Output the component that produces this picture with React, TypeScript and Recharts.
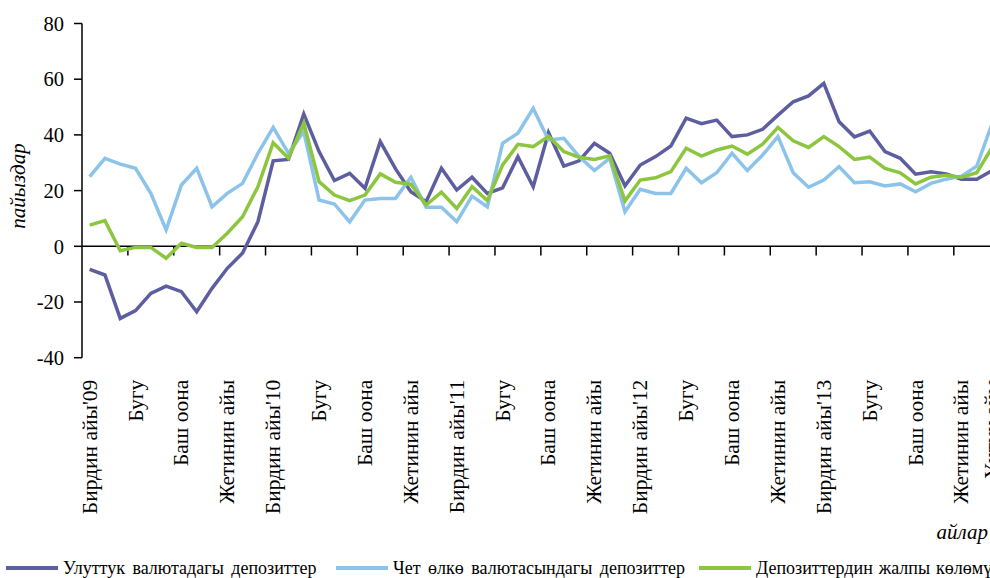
import { LineChart, Line, XAxis, YAxis, ReferenceLine } from "recharts";

// months Feb 2009 .. Jan 2014, labelled every third month
const tickIndex = [0, 3, 6, 9, 12, 15, 18, 21, 24, 27, 30, 33, 36, 39, 42, 45, 48, 51, 54, 57, 59];
const tickLabels = [
  "Бирдин айы'09", "Бугу", "Баш оона", "Жетинин айы",
  "Бирдин айы'10", "Бугу", "Баш оона", "Жетинин айы",
  "Бирдин айы'11", "Бугу", "Баш оона", "Жетинин айы",
  "Бирдин айы'12", "Бугу", "Баш оона", "Жетинин айы",
  "Бирдин айы'13", "Бугу", "Баш оона", "Жетинин айы",
  "Үчтүн айы",
];

const national = [
  -8.3, -10.3, -25.9, -23.1, -16.9, -14.3, -16.3, -23.5, -15.1, -7.9,
  -2.4, 8.8, 30.7, 31.2, 47.5, 34, 23.6, 26.2, 20.8, 37.6,
  27.8, 19.6, 16.0, 28, 20.2, 24.8, 19, 21, 32.2, 21.4,
  40.8, 28.8, 30.7, 37, 33.4, 21.7, 29.2, 32.2, 36, 46,
  44, 45.3, 39.4, 40, 42, 47.1, 51.9, 54, 58.5, 44.7,
  39.3, 41.4, 34, 31.6, 25.9, 26.8, 26, 24.1, 24.1, 27.2,
];

const foreign = [
  25, 31.6, 29.5, 28, 19, 5.9, 22, 28, 14.2, 19,
  22.6, 33.4, 42.7, 33.4, 41.2, 16.6, 15.2, 8.8, 16.6, 17.2,
  17.2, 24.8, 14, 14, 8.8, 18, 14.2, 37, 40.6, 49.5,
  38.2, 38.8, 32.2, 27.2, 31.6, 12.4, 20.5, 19, 19, 28,
  22.8, 26.4, 33.4, 27.2, 32.8, 39.4, 26.4, 21.2, 23.8, 28.6,
  22.8, 23.2, 21.7, 22.4, 19.6, 22.6, 24.1, 25.2, 28.8, 44,
];

const total = [
  7.6, 9.2, -1.6, -0.4, -0.4, -4.3, 1.1, -0.4, -0.4, 4.7,
  10.6, 21.4, 37.2, 31.6, 44.2, 23.2, 18.4, 16.4, 18.4, 26,
  23, 22.3, 14.8, 19.4, 13.6, 21.4, 16.4, 29.2, 36.6, 35.8,
  39.5, 34, 32, 31.2, 32.5, 16.3, 23.8, 24.6, 26.8, 35.2,
  32.4, 34.6, 36, 33.1, 36.7, 42.7, 37.9, 35.5, 39.4, 35.8,
  31.2, 32, 28, 26.4, 22.4, 24.8, 25.5, 24.8, 26.4, 35.5,
];

const SERIES = [
  { key: "national", name: "Улуттук валютадагы депозиттер", color: "#5D5E9F", legendX: 6 },
  { key: "foreign", name: "Чет өлкө валютасындагы депозиттер", color: "#8CC3EA", legendX: 336 },
  { key: "total", name: "Депозиттердин жалпы көлөмү", color: "#8CC63F", legendX: 699 },
];

const FONT = '"Liberation Serif", "DejaVu Serif", serif';

const chartData = national.map((v, i) => ({
  i,
  national: v,
  foreign: foreign[i],
  total: total[i],
}));

// small tick marks on the zero line, between every third month
const tickMarks = Array.from({ length: 20 }, (_, k) => k * 3 + 2.5);

function MonthTick({ x, y, payload }: any) {
  const label = tickLabels[tickIndex.indexOf(payload.value)];
  const ty = y + 22;
  return (
    <text
      x={x}
      y={ty}
      transform={`rotate(-90, ${x}, ${ty})`}
      textAnchor="end"
      dominantBaseline="central"
      fontFamily={FONT}
      fontSize={21.5}
      fill="#000"
    >
      {label}
    </text>
  );
}

export default function App() {
  return (
    <div
      style={{
        position: "absolute",
        left: 0,
        top: 0,
        width: 990,
        height: 578,
        overflow: "hidden",
        background: "#fff",
        fontFamily: FONT,
        color: "#000",
      }}
    >
      <LineChart
        width={1015}
        height={578}
        data={chartData}
        margin={{ top: 23.5, right: 0, bottom: 50.3, left: 0 }}
        style={{ fontFamily: FONT }}
      >
        <XAxis
          dataKey="i"
          type="number"
          domain={[-0.5, 60.5]}
          ticks={tickIndex}
          interval={0}
          axisLine={false}
          tickLine={false}
          tickSize={0}
          tickMargin={0}
          height={170}
          tick={<MonthTick />}
        />
        <YAxis
          domain={[-40, 80]}
          ticks={[-40, -20, 0, 20, 40, 60, 80]}
          width={82}
          axisLine={{ stroke: "#000", strokeWidth: 1.5 }}
          tickLine={{ stroke: "#000", strokeWidth: 1.5 }}
          tickSize={8}
          tickMargin={10}
          tick={{ fill: "#000", fontSize: 20.5, fontFamily: FONT }}
        />
        <ReferenceLine y={0} stroke="#000" strokeWidth={1.5} />
        {tickMarks.map((t) => (
          <ReferenceLine
            key={t}
            segment={[
              { x: t, y: 0 },
              { x: t, y: -3.3 },
            ]}
            stroke="#000"
            strokeWidth={1.5}
          />
        ))}
        {SERIES.map((s) => (
          <Line
            key={s.key}
            dataKey={s.key}
            name={s.name}
            stroke={s.color}
            strokeWidth={3.5}
            dot={false}
            activeDot={false}
            isAnimationActive={false}
          />
        ))}
      </LineChart>

      <div
        style={{
          position: "absolute",
          left: 18,
          top: 186,
          transform: "translate(-50%, -50%) rotate(-90deg)",
          fontStyle: "italic",
          fontSize: 21,
          whiteSpace: "nowrap",
        }}
      >
        пайыздар
      </div>

      <div
        style={{
          position: "absolute",
          right: 2,
          top: 522,
          fontStyle: "italic",
          fontSize: 21,
          lineHeight: "21px",
        }}
      >
        айлар
      </div>

      {SERIES.map((s) => (
        <div
          key={s.key}
          style={{
            position: "absolute",
            left: s.legendX,
            top: 558,
            display: "flex",
            alignItems: "center",
            whiteSpace: "nowrap",
            fontSize: 18,
            lineHeight: "20px",
          }}
        >
          <span style={{ display: "inline-block", width: 52, height: 4, background: s.color, marginRight: 5 }} />
          <span style={{ wordSpacing: s.key === "total" ? 1.5 : 3 }}>{s.name}</span>
        </div>
      ))}
    </div>
  );
}
